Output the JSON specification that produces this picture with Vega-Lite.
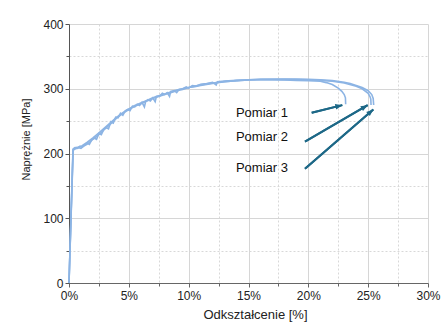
{
  "$schema": "https://vega.github.io/schema/vega-lite/v6.json",
  "width": 359,
  "height": 259,
  "autosize": {"type": "none"},
  "padding": {"left": 69, "top": 24, "right": 14, "bottom": 39},
  "background": "white",
  "config": {"view": {"stroke": null}, "font": "Liberation Sans"},
  "resolve": {"axis": {"x": "independent", "y": "independent"}},
  "datasets": {
    "curves": [
      {"s": "Pomiar 3", "strain": 0, "stress": 0},
      {"s": "Pomiar 3", "strain": 0.35, "stress": 207},
      {"s": "Pomiar 3", "strain": 0.5, "stress": 209},
      {"s": "Pomiar 3", "strain": 0.7, "stress": 208},
      {"s": "Pomiar 3", "strain": 0.9, "stress": 211},
      {"s": "Pomiar 3", "strain": 1.1, "stress": 210},
      {"s": "Pomiar 3", "strain": 1.3, "stress": 213},
      {"s": "Pomiar 3", "strain": 1.5, "stress": 216},
      {"s": "Pomiar 3", "strain": 1.7, "stress": 214},
      {"s": "Pomiar 3", "strain": 1.9, "stress": 221},
      {"s": "Pomiar 3", "strain": 2.1, "stress": 224},
      {"s": "Pomiar 3", "strain": 2.3, "stress": 222},
      {"s": "Pomiar 3", "strain": 2.5, "stress": 231},
      {"s": "Pomiar 3", "strain": 2.7, "stress": 229},
      {"s": "Pomiar 3", "strain": 2.9, "stress": 237},
      {"s": "Pomiar 3", "strain": 3.1, "stress": 240},
      {"s": "Pomiar 3", "strain": 3.3, "stress": 238},
      {"s": "Pomiar 3", "strain": 3.5, "stress": 249},
      {"s": "Pomiar 3", "strain": 3.7, "stress": 247},
      {"s": "Pomiar 3", "strain": 3.9, "stress": 256},
      {"s": "Pomiar 3", "strain": 4.1, "stress": 255},
      {"s": "Pomiar 3", "strain": 4.3, "stress": 262},
      {"s": "Pomiar 3", "strain": 4.5, "stress": 259},
      {"s": "Pomiar 3", "strain": 4.7, "stress": 266},
      {"s": "Pomiar 3", "strain": 4.9, "stress": 268},
      {"s": "Pomiar 3", "strain": 5.1, "stress": 266},
      {"s": "Pomiar 3", "strain": 5.3, "stress": 273},
      {"s": "Pomiar 3", "strain": 5.5, "stress": 272},
      {"s": "Pomiar 3", "strain": 5.7, "stress": 276},
      {"s": "Pomiar 3", "strain": 5.9, "stress": 274},
      {"s": "Pomiar 3", "strain": 6.1, "stress": 279},
      {"s": "Pomiar 3", "strain": 6.3, "stress": 272},
      {"s": "Pomiar 3", "strain": 6.4, "stress": 280},
      {"s": "Pomiar 3", "strain": 6.6, "stress": 283},
      {"s": "Pomiar 3", "strain": 6.8, "stress": 281},
      {"s": "Pomiar 3", "strain": 7.0, "stress": 286},
      {"s": "Pomiar 3", "strain": 7.2, "stress": 280},
      {"s": "Pomiar 3", "strain": 7.3, "stress": 288},
      {"s": "Pomiar 3", "strain": 7.6, "stress": 289},
      {"s": "Pomiar 3", "strain": 7.8, "stress": 293},
      {"s": "Pomiar 3", "strain": 8.0, "stress": 291},
      {"s": "Pomiar 3", "strain": 8.2, "stress": 294},
      {"s": "Pomiar 3", "strain": 8.4, "stress": 288},
      {"s": "Pomiar 3", "strain": 8.5, "stress": 296},
      {"s": "Pomiar 3", "strain": 8.8, "stress": 297},
      {"s": "Pomiar 3", "strain": 9.0, "stress": 294},
      {"s": "Pomiar 3", "strain": 9.2, "stress": 299},
      {"s": "Pomiar 3", "strain": 9.5, "stress": 300},
      {"s": "Pomiar 3", "strain": 9.8, "stress": 303},
      {"s": "Pomiar 3", "strain": 10.0, "stress": 301},
      {"s": "Pomiar 3", "strain": 10.3, "stress": 305},
      {"s": "Pomiar 3", "strain": 10.6, "stress": 304},
      {"s": "Pomiar 3", "strain": 11.0, "stress": 307},
      {"s": "Pomiar 3", "strain": 11.5, "stress": 308},
      {"s": "Pomiar 3", "strain": 12.0, "stress": 310},
      {"s": "Pomiar 3", "strain": 12.3, "stress": 306},
      {"s": "Pomiar 3", "strain": 12.4, "stress": 311},
      {"s": "Pomiar 3", "strain": 13, "stress": 312},
      {"s": "Pomiar 3", "strain": 14, "stress": 313},
      {"s": "Pomiar 3", "strain": 15, "stress": 314},
      {"s": "Pomiar 3", "strain": 16, "stress": 315},
      {"s": "Pomiar 3", "strain": 17, "stress": 315},
      {"s": "Pomiar 3", "strain": 18, "stress": 315},
      {"s": "Pomiar 3", "strain": 19, "stress": 315},
      {"s": "Pomiar 3", "strain": 20, "stress": 314.5},
      {"s": "Pomiar 3", "strain": 21, "stress": 314},
      {"s": "Pomiar 3", "strain": 22, "stress": 312.5},
      {"s": "Pomiar 3", "strain": 23, "stress": 310},
      {"s": "Pomiar 3", "strain": 23.5, "stress": 308},
      {"s": "Pomiar 3", "strain": 24, "stress": 305},
      {"s": "Pomiar 3", "strain": 24.5, "stress": 302},
      {"s": "Pomiar 3", "strain": 25, "stress": 297},
      {"s": "Pomiar 3", "strain": 25.3, "stress": 291},
      {"s": "Pomiar 3", "strain": 25.42, "stress": 285},
      {"s": "Pomiar 3", "strain": 25.46, "stress": 275},

      {"s": "Pomiar 2", "strain": 0, "stress": 0},
      {"s": "Pomiar 2", "strain": 0.33, "stress": 205},
      {"s": "Pomiar 2", "strain": 0.5, "stress": 207},
      {"s": "Pomiar 2", "strain": 0.8, "stress": 209},
      {"s": "Pomiar 2", "strain": 1.0, "stress": 208},
      {"s": "Pomiar 2", "strain": 1.2, "stress": 211},
      {"s": "Pomiar 2", "strain": 1.5, "stress": 214},
      {"s": "Pomiar 2", "strain": 2.0, "stress": 222},
      {"s": "Pomiar 2", "strain": 2.5, "stress": 229},
      {"s": "Pomiar 2", "strain": 3.0, "stress": 238},
      {"s": "Pomiar 2", "strain": 3.5, "stress": 246},
      {"s": "Pomiar 2", "strain": 4.0, "stress": 255},
      {"s": "Pomiar 2", "strain": 4.5, "stress": 262},
      {"s": "Pomiar 2", "strain": 5.0, "stress": 268},
      {"s": "Pomiar 2", "strain": 5.5, "stress": 273},
      {"s": "Pomiar 2", "strain": 6.0, "stress": 277},
      {"s": "Pomiar 2", "strain": 6.5, "stress": 281},
      {"s": "Pomiar 2", "strain": 7.0, "stress": 285},
      {"s": "Pomiar 2", "strain": 7.5, "stress": 288},
      {"s": "Pomiar 2", "strain": 8.0, "stress": 291},
      {"s": "Pomiar 2", "strain": 8.5, "stress": 294},
      {"s": "Pomiar 2", "strain": 9.0, "stress": 297},
      {"s": "Pomiar 2", "strain": 9.5, "stress": 299},
      {"s": "Pomiar 2", "strain": 10, "stress": 302},
      {"s": "Pomiar 2", "strain": 10.5, "stress": 303},
      {"s": "Pomiar 2", "strain": 11, "stress": 305},
      {"s": "Pomiar 2", "strain": 12, "stress": 308},
      {"s": "Pomiar 2", "strain": 13, "stress": 311},
      {"s": "Pomiar 2", "strain": 14, "stress": 312.5},
      {"s": "Pomiar 2", "strain": 15, "stress": 313.5},
      {"s": "Pomiar 2", "strain": 16, "stress": 314},
      {"s": "Pomiar 2", "strain": 18, "stress": 314.5},
      {"s": "Pomiar 2", "strain": 20, "stress": 314},
      {"s": "Pomiar 2", "strain": 21, "stress": 313},
      {"s": "Pomiar 2", "strain": 22, "stress": 311.5},
      {"s": "Pomiar 2", "strain": 23, "stress": 309},
      {"s": "Pomiar 2", "strain": 24, "stress": 304},
      {"s": "Pomiar 2", "strain": 24.5, "stress": 300},
      {"s": "Pomiar 2", "strain": 25, "stress": 293},
      {"s": "Pomiar 2", "strain": 25.15, "stress": 288},
      {"s": "Pomiar 2", "strain": 25.22, "stress": 284},
      {"s": "Pomiar 2", "strain": 25.24, "stress": 275},

      {"s": "Pomiar 1", "strain": 0, "stress": 0},
      {"s": "Pomiar 1", "strain": 0.34, "stress": 206},
      {"s": "Pomiar 1", "strain": 0.5, "stress": 209},
      {"s": "Pomiar 1", "strain": 0.8, "stress": 210},
      {"s": "Pomiar 1", "strain": 1.1, "stress": 212},
      {"s": "Pomiar 1", "strain": 1.5, "stress": 217},
      {"s": "Pomiar 1", "strain": 2.0, "stress": 224},
      {"s": "Pomiar 1", "strain": 2.5, "stress": 232},
      {"s": "Pomiar 1", "strain": 3.0, "stress": 240},
      {"s": "Pomiar 1", "strain": 3.5, "stress": 248},
      {"s": "Pomiar 1", "strain": 4.0, "stress": 256},
      {"s": "Pomiar 1", "strain": 4.5, "stress": 263},
      {"s": "Pomiar 1", "strain": 5.0, "stress": 269},
      {"s": "Pomiar 1", "strain": 5.5, "stress": 274},
      {"s": "Pomiar 1", "strain": 6.0, "stress": 278},
      {"s": "Pomiar 1", "strain": 6.5, "stress": 282},
      {"s": "Pomiar 1", "strain": 7.0, "stress": 286},
      {"s": "Pomiar 1", "strain": 7.5, "stress": 289},
      {"s": "Pomiar 1", "strain": 8.0, "stress": 292},
      {"s": "Pomiar 1", "strain": 8.5, "stress": 295},
      {"s": "Pomiar 1", "strain": 9.0, "stress": 298},
      {"s": "Pomiar 1", "strain": 9.5, "stress": 300},
      {"s": "Pomiar 1", "strain": 10, "stress": 302},
      {"s": "Pomiar 1", "strain": 11, "stress": 306},
      {"s": "Pomiar 1", "strain": 12, "stress": 309},
      {"s": "Pomiar 1", "strain": 13, "stress": 311},
      {"s": "Pomiar 1", "strain": 14, "stress": 312.5},
      {"s": "Pomiar 1", "strain": 15, "stress": 313.5},
      {"s": "Pomiar 1", "strain": 16, "stress": 314},
      {"s": "Pomiar 1", "strain": 17, "stress": 314},
      {"s": "Pomiar 1", "strain": 18, "stress": 313.5},
      {"s": "Pomiar 1", "strain": 19, "stress": 313},
      {"s": "Pomiar 1", "strain": 20, "stress": 312.5},
      {"s": "Pomiar 1", "strain": 21, "stress": 311.5},
      {"s": "Pomiar 1", "strain": 21.5, "stress": 309.5},
      {"s": "Pomiar 1", "strain": 22, "stress": 306.5},
      {"s": "Pomiar 1", "strain": 22.5, "stress": 301},
      {"s": "Pomiar 1", "strain": 22.8, "stress": 296},
      {"s": "Pomiar 1", "strain": 23.0, "stress": 291},
      {"s": "Pomiar 1", "strain": 23.1, "stress": 286},
      {"s": "Pomiar 1", "strain": 23.12, "stress": 276}
    ],
    "notes": [
      {"name": "Pomiar 1", "tx": 13.95, "ty": 262, "x1": 20.28, "y1": 263, "x2": 22.84, "y2": 274.7},
      {"name": "Pomiar 2", "tx": 13.95, "ty": 225.5, "x1": 19.72, "y1": 218.2, "x2": 24.96, "y2": 274.7},
      {"name": "Pomiar 3", "tx": 13.95, "ty": 177.5, "x1": 19.72, "y1": 176.5, "x2": 25.43, "y2": 268.1}
    ]
  },
  "layer": [
    {
      "data": {"name": "notes"},
      "mark": {"type": "rule", "color": "#1d6887", "strokeWidth": 2},
      "encoding": {
        "x": {
          "field": "x1", "type": "quantitative",
          "scale": {"domain": [0, 30], "nice": false, "zero": false},
          "axis": {
            "orient": "bottom", "values": [2.5, 7.5, 12.5, 17.5, 22.5, 27.5],
            "labels": false, "domain": false, "title": null,
            "grid": true, "gridColor": "#d8d8d8", "gridDash": [2, 2], "gridWidth": 1,
            "ticks": true, "tickSize": 3, "tickColor": "#666"
          }
        },
        "y": {
          "field": "y1", "type": "quantitative",
          "scale": {"domain": [0, 400], "nice": false},
          "axis": {
            "orient": "left", "values": [50, 150, 250, 350],
            "labels": false, "domain": false, "title": null,
            "grid": true, "gridColor": "#d8d8d8", "gridDash": [2, 2], "gridWidth": 1,
            "ticks": true, "tickSize": 3, "tickColor": "#555"
          }
        },
        "x2": {"field": "x2"},
        "y2": {"field": "y2"}
      }
    },
    {
      "data": {"name": "curves"},
      "mark": {"type": "line", "color": "#8cb4e4", "strokeWidth": 1.6},
      "encoding": {
        "x": {
          "field": "strain", "type": "quantitative", "title": "Odkształcenie [%]",
          "axis": {
            "orient": "bottom",
            "values": [0, 5, 10, 15, 20, 25, 30],
            "labelExpr": "datum.value + '%'",
            "labelOverlap": false, "labelFlush": false,
            "grid": true, "gridColor": "#d6d6d6", "gridWidth": 1,
            "tickSize": 4, "tickColor": "#666", "domainColor": "#666",
            "labelFontSize": 12, "labelColor": "#222", "labelPadding": 3,
            "titleFontSize": 13, "titleFontWeight": "normal", "titleColor": "#222",
            "titleX": 186, "titleY": 35, "titleAlign": "center", "titleBaseline": "alphabetic"
          }
        },
        "y": {
          "field": "stress", "type": "quantitative", "title": "Naprężnie [MPa]",
          "axis": {
            "orient": "left",
            "values": [0, 100, 200, 300, 400],
            "labelOverlap": false,
            "grid": true, "gridColor": "#d6d6d6",
            "tickSize": 4, "tickColor": "#555", "domainColor": "#555",
            "labelFontSize": 12, "labelColor": "#222", "labelPadding": 2,
            "titleFontSize": 11, "titleFontWeight": "normal", "titleColor": "#222",
            "titleX": -43, "titleY": 115, "titleAlign": "center", "titleBaseline": "middle", "titleAngle": 270
          }
        },
        "detail": {"field": "s", "type": "nominal"}
      }
    },
    {
      "data": {"name": "notes"},
      "mark": {"type": "rule", "color": "#1d6887", "strokeWidth": 2},
      "encoding": {
        "x": {"field": "x1", "type": "quantitative", "axis": null},
        "y": {"field": "y1", "type": "quantitative", "axis": null},
        "x2": {"field": "x2"},
        "y2": {"field": "y2"}
      }
    },
    {
      "data": {"name": "notes"},
      "mark": {"type": "point", "shape": "M0,0L0.8,2L-0.8,2Z", "filled": true, "size": 49, "color": "#1d6887", "opacity": 1, "strokeWidth": 0},
      "encoding": {
        "x": {"field": "x2", "type": "quantitative", "axis": null},
        "y": {"field": "y2", "type": "quantitative", "axis": null},
        "angle": {"field": "name", "type": "nominal", "scale": {"type": "ordinal", "domain": ["Pomiar 1", "Pomiar 2", "Pomiar 3"], "range": [76, 60, 49]}, "legend": null}
      }
    },
    {
      "data": {"name": "notes"},
      "mark": {"type": "text", "align": "left", "baseline": "middle", "fontSize": 13, "color": "#111"},
      "encoding": {
        "x": {"field": "tx", "type": "quantitative", "axis": null},
        "y": {"field": "ty", "type": "quantitative", "axis": null},
        "text": {"field": "name", "type": "nominal"}
      }
    }
  ]
}
